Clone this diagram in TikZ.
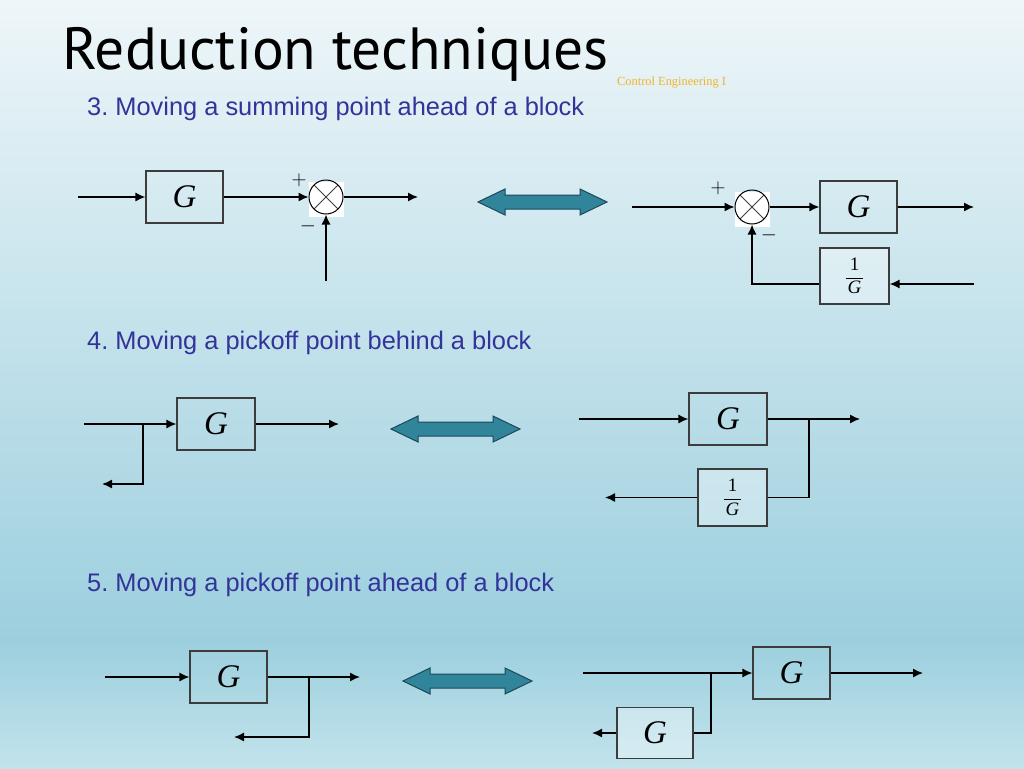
\documentclass[tikz,border=0pt]{standalone}
\usepackage{fontspec}
\setmainfont{Liberation Sans}
\newfontfamily\titlefont{PT Sans}
\newfontfamily\tmsfont{Liberation Serif}
\usetikzlibrary{arrows.meta,positioning}
\definecolor{bgtop}{RGB}{238,246,249}
\definecolor{bgmid}{RGB}{156,207,222}
\definecolor{bgbot}{RGB}{194,227,236}
\definecolor{headblue}{RGB}{51,51,153}
\definecolor{tagorange}{RGB}{240,180,40}
\definecolor{swapfill}{RGB}{49,133,155}
\definecolor{swapline}{RGB}{28,72,88}
\definecolor{boxline}{RGB}{60,60,60}
\frenchspacing
\tikzset{
  blk/.style={draw=boxline,line width=1.1pt,inner sep=0pt,minimum width=77pt,minimum height=52pt,
    font=\tmsfont\itshape\fontsize{33}{33}\selectfont},
  fblk/.style={blk,fill=white,fill opacity=0.35,text opacity=1},
  frac/.style={font=\tmsfont\fontsize{19}{19}\selectfont},
  sumpt/.style={circle,draw=black,line width=1pt,minimum size=34pt,inner sep=0pt,
    path picture={\draw[line width=0.8pt,black!75]
      (path picture bounding box.north west) -- (path picture bounding box.south east)
      (path picture bounding box.north east) -- (path picture bounding box.south west);}},
  sumbg/.style={rectangle,fill=white,minimum size=35pt,inner sep=0pt},
  sign/.style={inner sep=0pt,font=\fontsize{22}{22}\selectfont},
  heading/.style={anchor=base west,text=headblue,font=\fontsize{25.4}{30}\selectfont},
  wire/.style={line width=1.4pt},
  arr/.style={wire,-{Latex[length=10pt,width=9pt]}},
  dblarrow/.style={fill=swapfill,draw=swapline,line width=1pt,line join=miter}
}
\newcommand{\twoway}[2]{%
  \draw[dblarrow] (#1,#2) -- ++(27,-13) -- ++(0,6) -- ++(75,0) -- ++(0,-6) -- ++(27,13)
    -- ++(-27,13) -- ++(0,-6) -- ++(-75,0) -- ++(0,6) -- cycle;}
\newcommand{\invG}{$\displaystyle\frac{\hbox{\kern4pt 1\kern4pt}}{\hbox{\itshape G}}$}
\begin{document}
\begin{tikzpicture}[x=1pt,y=-1pt]
  \useasboundingbox (0,0) rectangle (1024,768);
  \shade[top color=bgtop,bottom color=bgmid] (0,0) rectangle (1024,640);
  \shade[top color=bgmid,bottom color=bgbot] (0,640) rectangle (1024,768);

  \node[anchor=base west,inner sep=0pt,font=\titlefont\fontsize{59.5}{60}\selectfont] (title) at (62,70) {Reduction techniques};
  \node[anchor=base west,inner sep=0pt,text=tagorange,font=\tmsfont\fontsize{12.4}{13}\selectfont] (tag) at (617,85) {Control Engineering I};
  \node[heading,inner sep=0pt] (h3) at (87,115) {3. Moving a summing point ahead of a block};
  \node[heading,inner sep=0pt] (h4) at (87,349) {4. Moving a pickoff point behind a block};
  \node[heading,inner sep=0pt] (h5) at (87,591) {5. Moving a pickoff point ahead of a block};

  \node[blk] (g3l) at (184.5,197) {G};
  \node[sumbg] (b3l) at (326,199) {};
  \node[sumpt] (s3l) at (326,197) {};
  \coordinate (i3l) at (78,197);
  \coordinate (o3l) at (418,197);
  \coordinate (f3l) at (326,281);
  \draw[arr] (i3l) -- (g3l);
  \draw[arr] (g3l) -- (s3l);
  \draw[arr] (s3l) -- (o3l);
  \draw[arr] (f3l) -- (s3l);
  \node[sign] (p3l) at (299,180) {$+$};
  \node[sign] (m3l) at (308,226) {$-$};

  \twoway{478}{202}

  \node[sumbg] (b3r) at (752,209) {};
  \node[sumpt] (s3r) at (752,207) {};
  \node[blk] (g3r) at (858.5,207) {G};
  \node[fblk,frac,minimum width=69pt,minimum height=56pt] (inv3) at (854.5,276) {\invG};
  \coordinate (i3r) at (632,207);
  \coordinate (o3r) at (974,207);
  \coordinate (f3r) at (974,284);
  \draw[arr] (i3r) -- (s3r);
  \draw[arr] (s3r) -- (g3r);
  \draw[arr] (g3r) -- (o3r);
  \draw[arr] (f3r) -- (f3r -| inv3.east);
  \draw[arr] (f3r -| inv3.west) -| (s3r);
  \node[sign] (p3r) at (718,188) {$+$};
  \node[sign] (m3r) at (769,235) {$-$};

  \node[blk,minimum width=78pt] (g4l) at (216,424) {G};
  \coordinate (i4l) at (84,424);
  \coordinate (t4l) at (143,424);
  \coordinate (o4l) at (339,424);
  \coordinate (d4l) at (102,484);
  \draw[arr] (i4l) -- (g4l);
  \draw[arr] (g4l) -- (o4l);
  \draw[arr] (t4l) |- (d4l);

  \twoway{391}{429}

  \node[blk,minimum width=78pt] (g4r) at (728,419) {G};
  \node[fblk,frac,minimum width=69pt,minimum height=57pt] (inv4) at (732.5,497.5) {\invG};
  \coordinate (i4r) at (579,419);
  \coordinate (t4r) at (809,419);
  \coordinate (o4r) at (860,419);
  \coordinate (d4r) at (605,497.5);
  \draw[arr] (i4r) -- (g4r);
  \draw[arr] (g4r) -- (o4r);
  \draw[wire] (t4r) |- (inv4);
  \draw[arr] (inv4) -- (d4r);

  \node[blk] (g5l) at (228.5,677) {G};
  \coordinate (i5l) at (105,677);
  \coordinate (t5l) at (309,677);
  \coordinate (o5l) at (360,677);
  \coordinate (d5l) at (234,737);
  \draw[arr] (i5l) -- (g5l);
  \draw[arr] (g5l) -- (o5l);
  \draw[arr] (t5l) |- (d5l);

  \twoway{403}{681}

  \node[blk] (g5r) at (791.5,673) {G};
  \node[fblk,minimum width=76pt,minimum height=51pt] (g5b) at (655,733) {G};
  \coordinate (i5r) at (583,673);
  \coordinate (t5r) at (711,673);
  \coordinate (o5r) at (923,673);
  \coordinate (d5b) at (592,733);
  \draw[arr] (i5r) -- (g5r);
  \draw[arr] (g5r) -- (o5r);
  \draw[wire] (t5r) |- (g5b);
  \draw[arr] (g5b) -- (d5b);
\end{tikzpicture}
\end{document}
